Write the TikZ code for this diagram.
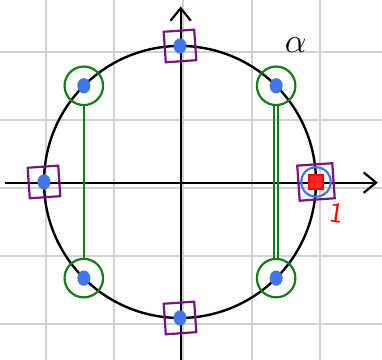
\documentclass[tikz,border=0pt]{standalone}
\usepackage{amsmath,amssymb}
\usepackage{tikz}
\usetikzlibrary{positioning,arrows.meta,calc,shapes.geometric}

\definecolor{dotblue}{RGB}{66,118,235}
\definecolor{ringgreen}{RGB}{20,125,20}
\definecolor{boxpurple}{RGB}{120,20,130}

\begin{document}
\begin{tikzpicture}[
      x=1.2cm,y=1.2cm,
      gridln/.style={draw=black!18,line width=0.9pt},
      axis/.style={draw=black,line width=1.1pt,-{Straight Barb[length=2.2mm,width=3.6mm,line width=1.1pt]}},
      pt/.style={ellipse,draw=none,fill=dotblue,minimum width=2.3mm,minimum height=2.7mm,inner sep=0pt},
      grn/.style={circle,draw=ringgreen,line width=1.1pt,minimum size=6.8mm,inner sep=0pt},
      sq/.style={rectangle,draw=boxpurple,line width=1.1pt,minimum size=5.4mm,inner sep=0pt},
      gline/.style={draw=ringgreen,line width=0.9pt}
    ]
    \useasboundingbox (-2.647,-2.618) rectangle (2.971,2.676);
    % grid
    \foreach \gx in {-1.97,-0.97,0.04,1.06,2.06}{\draw[gridln] (\gx,-2.7) -- (\gx,2.8);}
    \foreach \gy in {1.91,0.91,-0.09,-1.09,-2.09}{\draw[gridln] (-2.7,\gy) -- (3.0,\gy);}
    % unit circle
    \node[circle,draw=black,line width=1.2pt,minimum size=4.8cm,inner sep=0pt] (uc) at (0,0) {};
    % axes
    \coordinate (xl) at (-2.57,-0.01);
    \coordinate (xr) at (2.91,-0.01);
    \coordinate (yb) at (0.01,-2.7);
    \coordinate (yt) at (0.01,2.58);
    \draw[axis] (xl) -- (xr);
    \draw[axis] (yb) -- (yt);
    % eighth roots
    \foreach \k in {0,...,7}{\node[pt] (w\k) at (\k*45:2) {};}
    % green rings on the odd ones
    \foreach \k in {1,3,5,7}{\node[grn] (g\k) at (w\k) {};}
    \draw[gline] (g3) -- (g5);
    \draw[gline] ($(g1.south)+(-0.03,0)$) -- ($(g7.north)+(-0.03,0)$);
    \draw[gline] ($(g1.south)+(0.03,0)$) -- ($(g7.north)+(0.03,0)$);
    % purple boxes on the even ones
    \foreach \k in {2,4,6}{\node[sq,rotate=4] (s\k) at (w\k) {};}
    \node[sq,rotate=4,minimum size=6.2mm] (s0) at (w0) {};
    % the root 1
    \node[circle,draw=dotblue,line width=1.1pt,minimum size=5.2mm,inner sep=0pt] (ring) at (w0) {};
    \node[draw=red,fill=red!85,line width=1pt,minimum size=2.4mm,inner sep=0pt] (one) at (w0) {};
    \node[text=red,font=\Large\sffamily,rotate=-8] (lbl) at (2.3,-0.45) {1};
    \node[font=\LARGE] (al) at (1.7,2.02) {$\alpha$};
  \end{tikzpicture}
\end{document}
